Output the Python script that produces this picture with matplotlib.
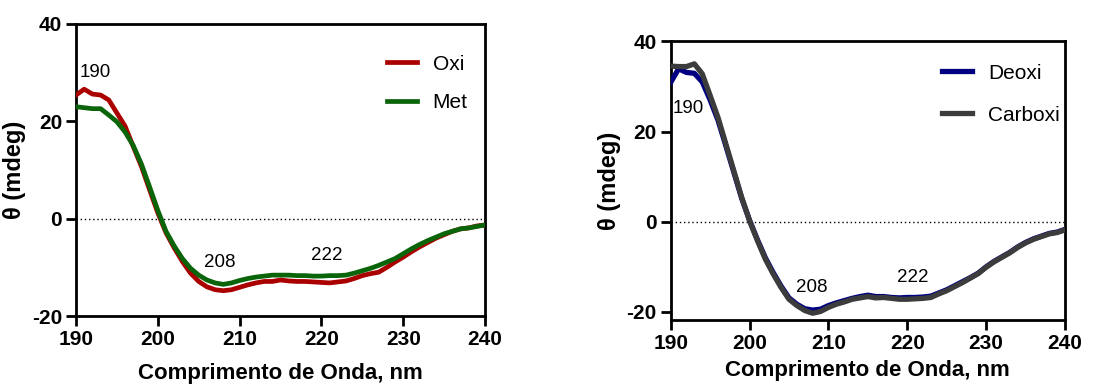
"""CD spectra of hemoglobin forms (two panels)."""

import numpy as np
import matplotlib
matplotlib.use("Agg")
import matplotlib.pyplot as plt

plt.rcParams["font.family"] = ["Liberation Sans", "DejaVu Sans"]
plt.rcParams["axes.unicode_minus"] = False

wavelength = np.arange(190, 241)

oxi = [25.4, 26.6, 25.6, 25.4, 24.4, 21.7, 19.0, 14.8, 10.7, 5.9,
       1.2, -2.9, -6.0, -8.8, -11.2, -12.9, -14.0, -14.6, -14.8, -14.6,
       -14.1, -13.6, -13.2, -12.9, -12.9, -12.6, -12.8, -12.9, -12.9, -13.0,
       -13.1, -13.2, -13.0, -12.8, -12.3, -11.7, -11.3, -11.0, -10.0, -8.9,
       -7.9, -6.8, -5.8, -4.9, -4.0, -3.3, -2.6, -2.1, -1.9, -1.5, -1.3]
met = [23.0, 22.8, 22.6, 22.6, 21.3, 19.9, 17.8, 15.0, 11.2, 6.5,
       1.7, -2.6, -5.6, -8.2, -10.2, -11.6, -12.6, -13.2, -13.5, -13.2,
       -12.7, -12.3, -12.0, -11.8, -11.6, -11.6, -11.6, -11.7, -11.7, -11.8,
       -11.8, -11.7, -11.7, -11.6, -11.2, -10.7, -10.2, -9.6, -8.9, -8.2,
       -7.2, -6.2, -5.3, -4.5, -3.8, -3.1, -2.6, -2.1, -1.9, -1.6, -1.3]
deoxi = [30.9, 33.9, 33.1, 32.9, 31.0, 27.0, 22.5, 16.8, 11.0, 5.2,
         0.3, -4.0, -8.0, -11.3, -14.3, -16.9, -18.3, -19.3, -19.6, -19.4,
         -18.6, -18.0, -17.5, -17.0, -16.6, -16.3, -16.6, -16.6, -16.8, -16.9,
         -16.8, -16.8, -16.7, -16.5, -15.8, -15.1, -14.2, -13.3, -12.4, -11.4,
         -10.0, -8.8, -7.8, -6.8, -5.6, -4.6, -3.8, -3.2, -2.6, -2.3, -1.7]
carboxi = [34.5, 34.4, 34.4, 35.0, 32.8, 28.0, 23.1, 17.2, 11.3, 5.4,
           0.2, -4.2, -8.3, -11.6, -14.6, -17.2, -18.6, -19.7, -20.3, -19.9,
           -19.0, -18.3, -17.8, -17.2, -16.9, -16.6, -16.9, -16.8, -17.0, -17.2,
           -17.2, -17.1, -17.0, -16.8, -16.0, -15.3, -14.4, -13.5, -12.5, -11.5,
           -10.1, -8.9, -7.9, -6.9, -5.7, -4.7, -3.9, -3.3, -2.7, -2.4, -1.8]

x_ticks = [190, 200, 210, 220, 230, 240]
y_ticks = [-20, 0, 20, 40]
peak_labels = ["190", "208", "222"]
left_peak_pos = [(192.3, 30.1), (207.6, -9.1), (220.6, -7.5)]
right_peak_pos = [(192.2, 25.0), (207.9, -14.7), (220.7, -12.4)]


def style_axes(ax, ylim, xlabelpad):
    ax.set_xlim(190, 240)
    ax.set_ylim(*ylim)
    ax.set_xticks(x_ticks)
    ax.set_yticks(y_ticks)
    ax.axhline(0, color="black", lw=1.0, ls=(0, (1, 2)), zorder=1)
    for side in ["top", "right", "bottom", "left"]:
        ax.spines[side].set_linewidth(2.0)
        ax.spines[side].set_color("black")
    ax.tick_params(direction="out", length=7, width=2, labelsize=15, pad=3)
    for lab in ax.get_xticklabels() + ax.get_yticklabels():
        lab.set_fontweight("bold")
    ax.set_xlabel("Comprimento de Onda, nm", fontsize=16, fontweight="bold",
                  labelpad=xlabelpad)
    ax.set_ylabel("θ (mdeg)", fontsize=17, fontweight="bold", labelpad=4)


fig = plt.figure(figsize=(11.13, 3.85), dpi=100)
ax1 = fig.add_axes([0.0683, 0.1792, 0.3675, 0.7585])
ax2 = fig.add_axes([0.6026, 0.1688, 0.3543, 0.7239])

ax1.plot(wavelength, oxi, color="#aa0000", lw=3.4, label="Oxi", zorder=3)
ax1.plot(wavelength, met, color="#0a640a", lw=3.4, label="Met", zorder=4)
style_axes(ax1, (-20, 40), 10)
for txt, (px, py) in zip(peak_labels, left_peak_pos):
    ax1.text(px, py, txt, fontsize=13.5, ha="center", va="center")
ax1.legend(loc="upper left", bbox_to_anchor=(0.76, 0.895), frameon=False,
           borderpad=0, borderaxespad=0, handlelength=1.45, handletextpad=0.75,
           labelspacing=0.95, fontsize=15)

ax2.plot(wavelength, deoxi, color="#000080", lw=3.8, label="Deoxi", zorder=3)
ax2.plot(wavelength, carboxi, color="#3c3c3c", lw=3.8, label="Carboxi", zorder=4)
style_axes(ax2, (-21.8, 40), 5)
for txt, (px, py) in zip(peak_labels, right_peak_pos):
    ax2.text(px, py, txt, fontsize=13.5, ha="center", va="center")
ax2.legend(loc="upper left", bbox_to_anchor=(0.688, 0.92), frameon=False,
           borderpad=0, borderaxespad=0, handlelength=1.45, handletextpad=0.75,
           labelspacing=1.1, fontsize=15)

fig.savefig("out.png", dpi=100)
